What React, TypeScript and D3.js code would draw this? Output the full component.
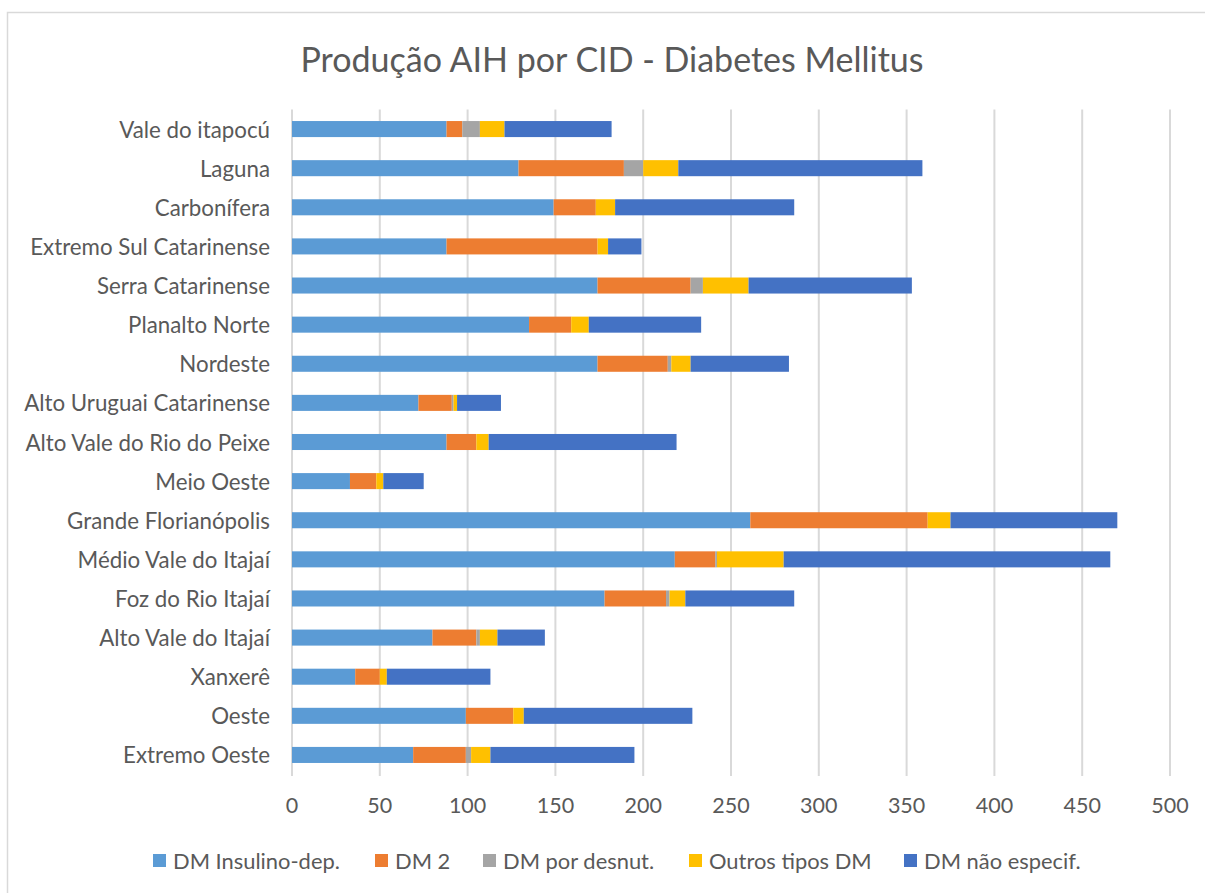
import React from "react";
import * as d3 from "d3";

const categories = [
  "Vale do itapocú",
  "Laguna",
  "Carbonífera",
  "Extremo Sul Catarinense",
  "Serra Catarinense",
  "Planalto Norte",
  "Nordeste",
  "Alto Uruguai Catarinense",
  "Alto Vale do Rio do Peixe",
  "Meio Oeste",
  "Grande Florianópolis",
  "Médio Vale do Itajaí",
  "Foz do Rio Itajaí",
  "Alto Vale do Itajaí",
  "Xanxerê",
  "Oeste",
  "Extremo Oeste",
];

const seriesNames = [
  "DM Insulino-dep.",
  "DM 2",
  "DM por desnut.",
  "Outros tipos DM",
  "DM não especif.",
];

const insulinoDep = [88, 129, 149, 88, 174, 135, 174, 72, 88, 33, 261, 218, 178, 80, 36, 99, 69];
const dm2 = [9, 60, 24, 86, 53, 24, 40, 19, 17, 15, 101, 23, 35, 25, 14, 27, 30];
const porDesnut = [10, 11, 0, 0, 7, 0, 2, 1, 0, 0, 0, 1, 2, 2, 0, 0, 3];
const outrosTipos = [14, 20, 11, 6, 26, 10, 11, 2, 7, 4, 13, 38, 9, 10, 4, 6, 11];
const naoEspecif = [61, 139, 102, 19, 93, 64, 56, 25, 107, 23, 95, 186, 62, 27, 59, 96, 82];

const xTicks = [0, 50, 100, 150, 200, 250, 300, 350, 400, 450, 500];

const colors = ["#5B9BD5", "#ED7D31", "#A5A5A5", "#FFC000", "#4472C4"];

const W = 1205;
const H = 893;
const FONT = "Lato, 'Open Sans', sans-serif";
const TEXT = "#595959";

export default function App() {
  const seriesArrays = [insulinoDep, dm2, porDesnut, outrosTipos, naoEspecif];
  const rows = categories.map((c, i) => {
    const r: Record<string, any> = { cat: c };
    seriesNames.forEach((s, k) => (r[s] = seriesArrays[k][i]));
    return r;
  });
  const stack = d3.stack<any>().keys(seriesNames)(rows);

  const x = d3.scaleLinear().domain([0, 500]).range([292, 1170]);
  const y = d3
    .scaleBand<string>()
    .domain(categories)
    .range([109.5, 774.5])
    .paddingInner(0.59)
    .paddingOuter(0.295);

  const legendX = [153, 375, 483, 689, 904];

  return (
    <svg
      width={W}
      height={H}
      style={{ position: "absolute", left: 0, top: 0, background: "#fff" }}
      fontFamily={FONT}
    >
      <rect x={0} y={0} width={W} height={H} fill="#fff" />
      <rect x={7.5} y={12.5} width={W + 10} height={H + 10} fill="none" stroke="#d9d9d9" strokeWidth={1.5} />
      <text x={612} y={72} textAnchor="middle" fontSize={34} fill={TEXT}>
        Produção AIH por CID - Diabetes Mellitus
      </text>
      {xTicks.map((t) => (
        <g key={t}>
          <line x1={x(t)} x2={x(t)} y1={109.5} y2={776} stroke="#d9d9d9" strokeWidth={2} />
          <text x={x(t)} y={805} textAnchor="middle" dominantBaseline="central" fontSize={21.5} fill={TEXT}>
            {t}
          </text>
        </g>
      ))}
      {stack.map((layer, k) => (
        <g key={layer.key} fill={colors[k]}>
          {layer.map((d, i) => (
            <rect
              key={i}
              x={x(d[0])}
              y={y(categories[i])}
              width={Math.max(0, x(d[1]) - x(d[0]))}
              height={y.bandwidth()}
            />
          ))}
        </g>
      ))}
      {categories.map((c) => (
        <text
          key={c}
          x={270}
          y={(y(c) as number) + y.bandwidth() / 2}
          textAnchor="end"
          dominantBaseline="central"
          fontSize={22.3}
          fill={TEXT}
        >
          {c}
        </text>
      ))}
      {seriesNames.map((s, k) => (
        <g key={s}>
          <rect x={legendX[k]} y={854} width={13} height={13} fill={colors[k]} />
          <text x={legendX[k] + 20} y={860.5} dominantBaseline="central" fontSize={21.9} fill={TEXT}>
            {s}
          </text>
        </g>
      ))}
    </svg>
  );
}
